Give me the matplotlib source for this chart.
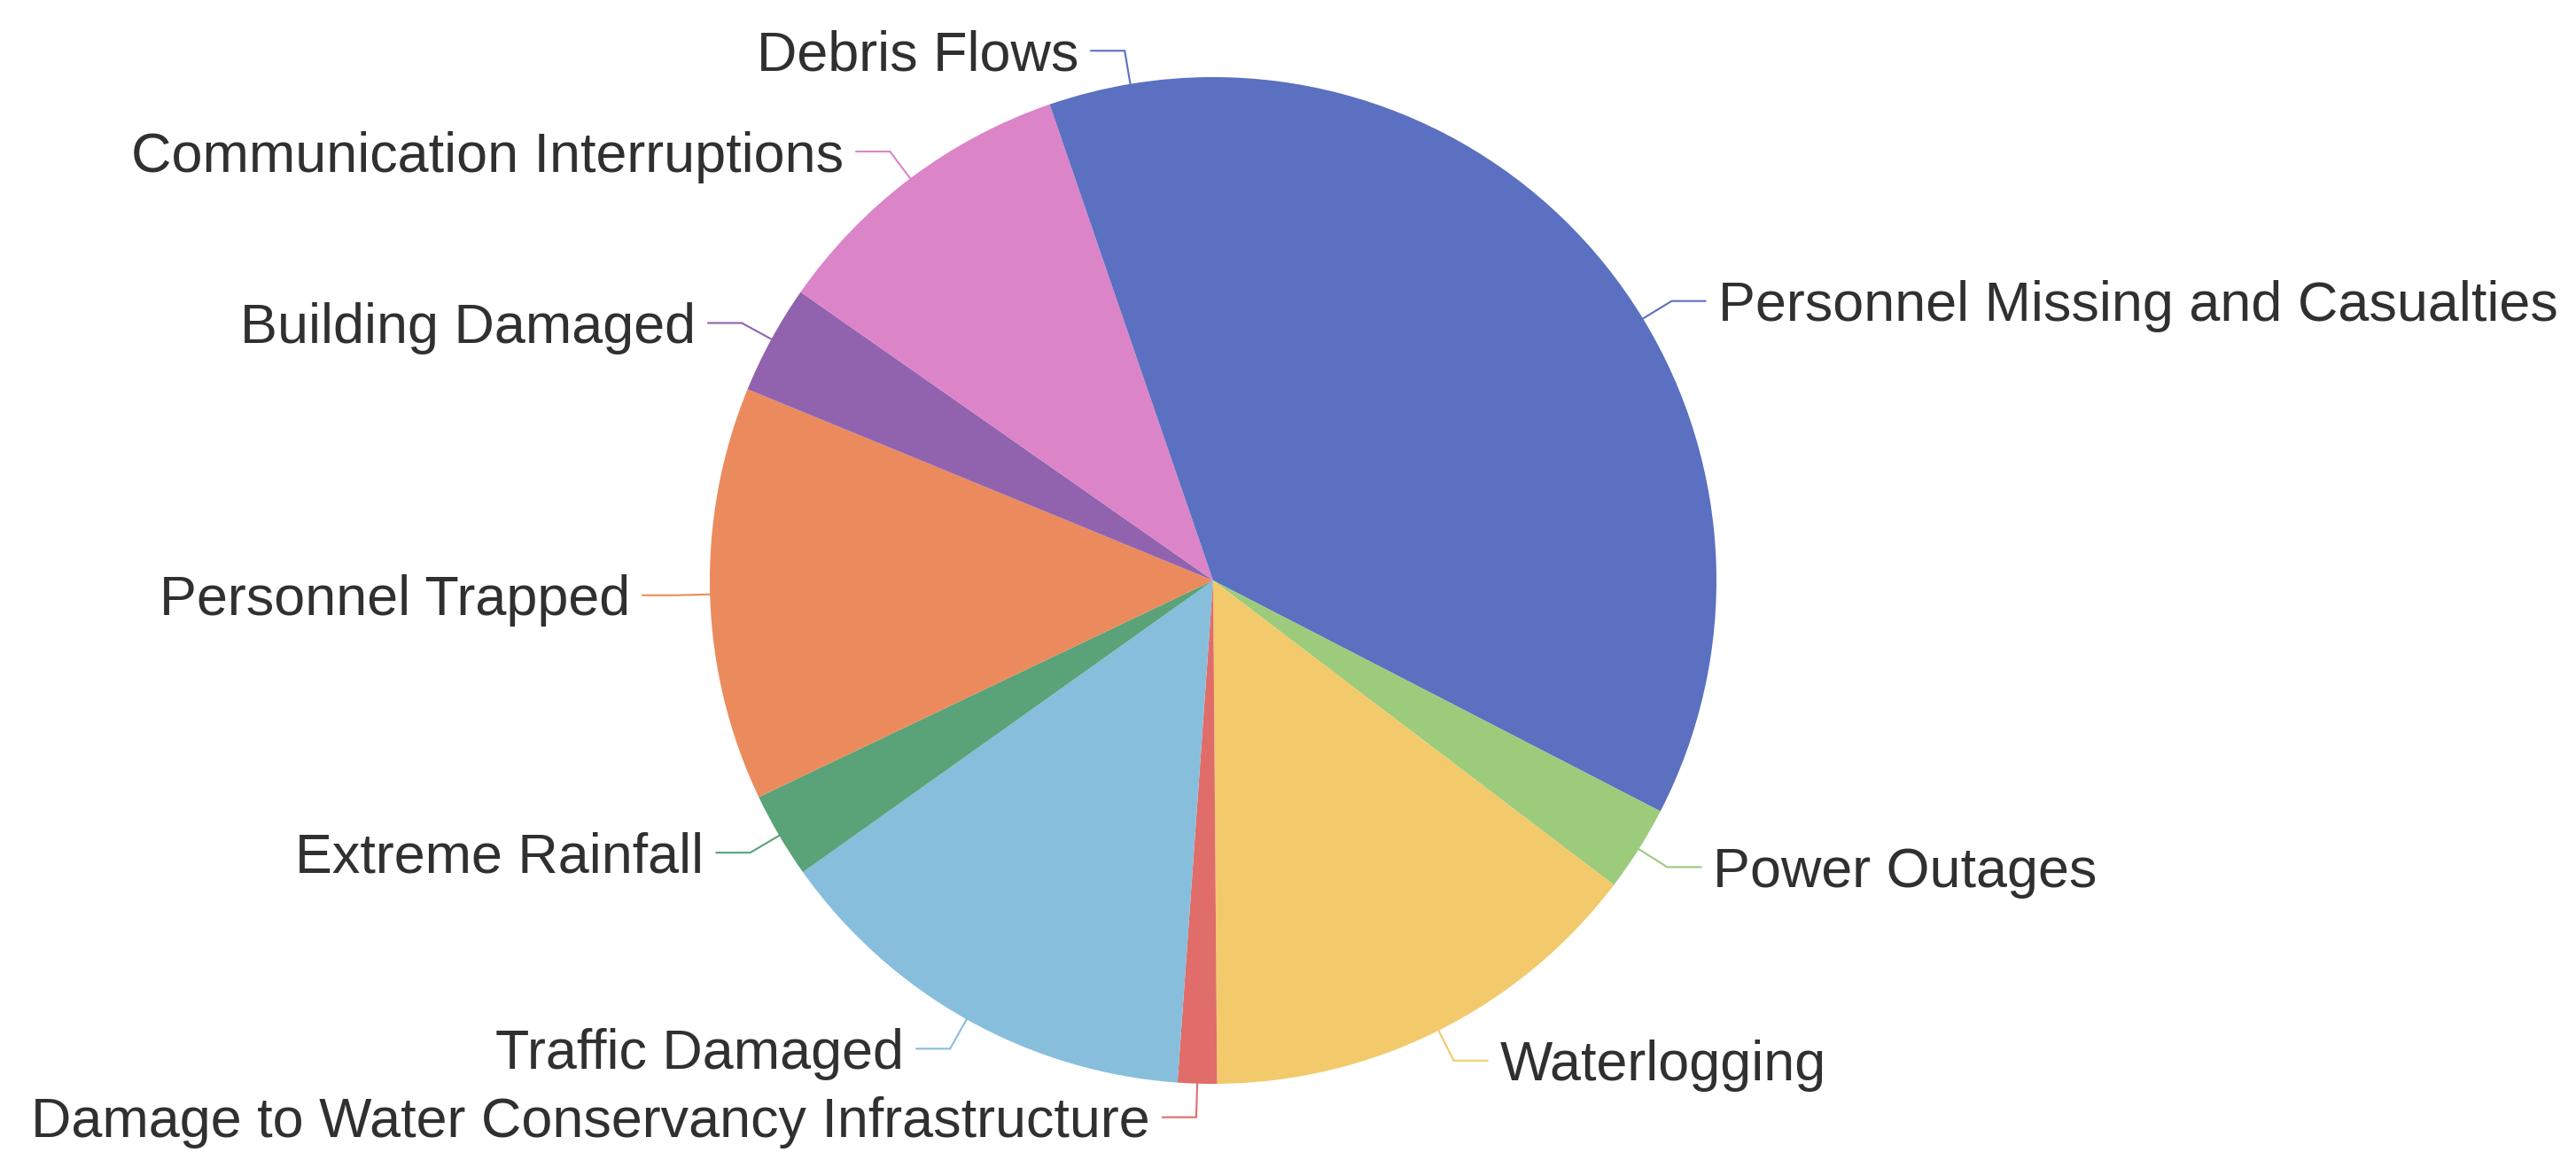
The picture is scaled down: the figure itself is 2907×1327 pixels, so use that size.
import numpy as np
import matplotlib
matplotlib.use("Agg")
import matplotlib.pyplot as plt

categories = ["Personnel Missing and Casualties", "Power Outages", "Waterlogging",
              "Damage to Water Conservancy Infrastructure", "Traffic Damaged",
              "Extreme Rainfall", "Personnel Trapped", "Building Damaged",
              "Communication Interruptions", "Debris Flows"]
values = [130, 11, 58, 5, 56, 11, 53, 14, 40, 21]
colors = ["#5b70c0", "#9ccb7c", "#f2ca6b", "#e06d6a", "#87bedc",
          "#5aa278", "#eb8b5d", "#9163ae", "#dc84c8", "#5b70c0"]

W, H = 2907, 1327
DPI = 100
fig = plt.figure(figsize=(W / DPI, H / DPI), dpi=DPI)
cx, cy, R = 1369, 655, 568
ax = fig.add_axes([(cx - R) / W, (H - cy - R) / H, 2 * R / W, 2 * R / H])
ax.pie(values, colors=colors, startangle=90, counterclock=False, radius=1,
       wedgeprops=dict(linewidth=0))
ax.set_xlim(-1, 1)
ax.set_ylim(-1, 1)
ax.set_aspect("equal")
ax.axis("off")

fs = 45.3
len1 = 38 / R
len2 = 38 / R
gap = 14 / R
cap_half = 0.716 * fs * DPI / 72 / 2 / R
total = float(sum(values))
cum = 0.0
for name, v, c in zip(categories, values, colors):
    mid = (cum + v / 2) / total * 2 * np.pi
    cum += v
    sx, sy = np.sin(mid), np.cos(mid)
    x0, y0 = sx, sy
    x1, y1 = (1 + len1) * sx, (1 + len1) * sy
    right = sx >= 0
    x2 = x1 + (len2 if right else -len2)
    ax.plot([x0, x1, x2], [y0, y1, y1], color=c, lw=1.5, clip_on=False,
            solid_joinstyle="miter")
    ax.text(x2 + (gap if right else -gap), y1 - cap_half, name,
            ha="left" if right else "right", va="baseline",
            fontsize=fs, color="#303030", family=["Liberation Sans", "DejaVu Sans"],
            clip_on=False)

fig.savefig("out.png", dpi=DPI, facecolor="white")
